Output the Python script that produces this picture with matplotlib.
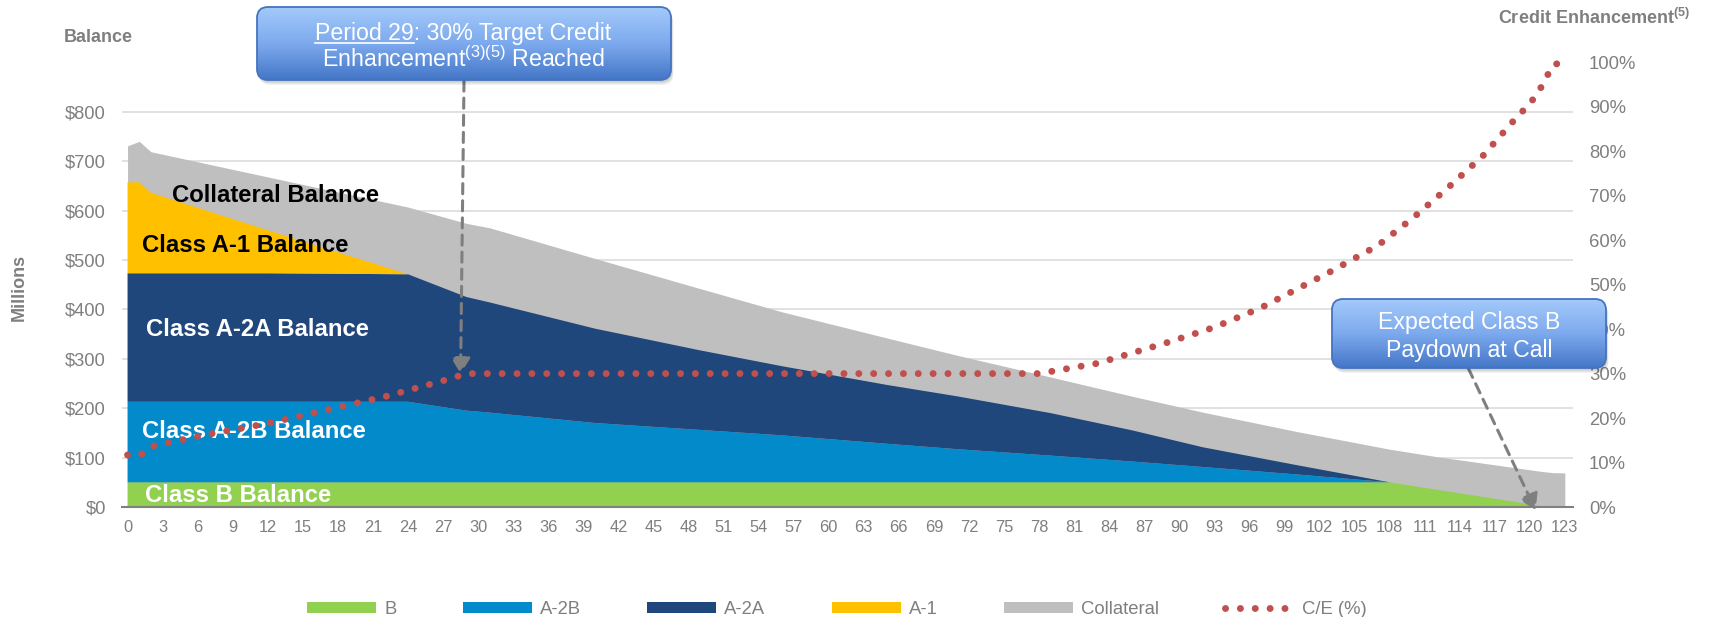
import numpy as np
import matplotlib
matplotlib.use('Agg')
import matplotlib.pyplot as plt
from matplotlib.patches import FancyBboxPatch, Patch
from matplotlib.lines import Line2D
from matplotlib.colors import LinearSegmentedColormap
from matplotlib.ticker import FuncFormatter, PercentFormatter

plt.rcParams['font.family'] = ['Liberation Sans', 'DejaVu Sans']
plt.rcParams['mathtext.fontset'] = 'custom'
plt.rcParams['mathtext.rm'] = 'Liberation Sans'
plt.rcParams['mathtext.bf'] = 'Liberation Sans:bold'
plt.rcParams['mathtext.it'] = 'Liberation Sans:italic'

# balances in $ millions at its break points
periods = [0, 1, 2, 12, 24, 29, 31, 40, 49, 56, 65, 71, 79, 86, 92, 100, 108, 112, 115, 118, 121, 122, 123]
class_b = [50, 50, 50, 50, 50, 50, 50, 50, 50, 50, 50, 50, 50, 50, 50, 50, 50, 35, 24, 13, 2, 0, 0]
class_a2b = [163, 163, 163, 163, 163, 145, 141, 120, 106, 95, 78, 67, 54, 42, 31, 16, 0, 0, 0, 0, 0, 0, 0]
class_a2a = [260, 260, 260, 260, 258, 230, 223, 191, 161, 140, 119, 107, 86, 63, 40, 19, 0, 0, 0, 0, 0, 0, 0]
class_a1 = [184, 184, 163, 87, 0, 0, 0, 0, 0, 0, 0, 0, 0, 0, 0, 0, 0, 0, 0, 0, 0, 0, 0]
collateral = [731, 740, 719, 668, 607, 574, 565, 503, 442, 395, 342, 307, 263, 224, 192, 153, 117, 102, 92, 82, 72, 69.5, 69]

# credit enhancement (%)
ce_periods = [0, 1, 2, 7, 12, 17, 22, 27, 29, 78, 83, 89, 93, 97, 103, 107, 110, 113, 116, 119, 120, 121, 122, 123]
ce_pct = [11.7, 11.5, 13.6, 16.4, 18.8, 21.8, 24.8, 28.4, 30.0, 30.0, 32.3, 37.0, 40.4, 44.8, 53.0, 58.8,
          65.0, 71.8, 79.0, 88.0, 90.6, 94.5, 99.5, 100.0]

legend_labels = ['B', 'A-2B', 'A-2A', 'A-1', 'Collateral', 'C/E (%)']

GREEN = '#92D050'
LBLUE = '#028ACB'
NAVY = '#1F477B'
YELLOW = '#FFC000'
GRAY = '#BFBFBF'
RED = '#C0504D'
TXT = '#7F7F7F'

W, H = 1714, 617
fig = plt.figure(figsize=(W / 100, H / 100), dpi=100)
ax = fig.add_axes([121.7 / W, 1 - 507 / H, (1573 - 121.7) / W, (507 - 62.3) / H])

ax.fill_between(periods, 0, collateral, color=GRAY, lw=0, zorder=1.2)
ax.stackplot(periods, class_b, class_a2b, class_a2a, class_a1,
             colors=[GREEN, LBLUE, NAVY, YELLOW], lw=0, zorder=1.5)

ax.set_xlim(-0.5, 123.7)
ax.set_ylim(0, 900)
ax.set_xticks(range(0, 124, 3))
ax.set_yticks(range(0, 801, 100))
ax.yaxis.set_major_formatter(FuncFormatter(lambda v, p: f'${v:,.0f}'))
ax.tick_params(axis='both', length=0, colors=TXT)
ax.tick_params(axis='y', labelsize=13.2, pad=11.5)
ax.tick_params(axis='x', labelsize=11.8, pad=9)
ax.grid(axis='y', color='#D9D9D9', lw=1.1)
ax.set_axisbelow(True)
for s in ['top', 'left', 'right']:
    ax.spines[s].set_visible(False)
ax.spines['bottom'].set_color('#808080')
ax.spines['bottom'].set_linewidth(1.5)

# labels inside the areas
lab = dict(fontsize=17.2, fontweight='bold', va='baseline', ha='left', zorder=2)
ax.text(3.77, 618, 'Collateral Balance', color='black', **lab)
ax.text(1.24, 515.5, 'Class A-1 Balance', color='black', **lab)
ax.text(1.62, 346, 'Class A-2A Balance', color='white', **lab)
ax.text(1.24, 140, 'Class A-2B Balance', color='white', **lab)
ax.text(1.5, 11, 'Class B Balance', color='white', **lab)

ax2 = ax.twinx()
ax2.set_ylim(0, 1)
ax2.set_yticks(np.arange(0, 1.01, 0.1))
ax2.yaxis.set_major_formatter(PercentFormatter(1.0, decimals=0))
ax2.tick_params(axis='y', length=0, colors=TXT, labelsize=13.3, pad=11.5)
for s in ax2.spines.values():
    s.set_visible(False)

dot_lw = 5.0
dot_style = (0, (0.01, 2.13))
ax2.plot(ce_periods, np.array(ce_pct) / 100, color=RED, lw=dot_lw, ls=dot_style,
         dash_capstyle='round', clip_on=False, zorder=3)

arrow = dict(arrowstyle='-|>,head_length=0.47,head_width=0.29', linestyle=(0, (3.3, 2.3)),
             lw=2.2, color='#7F7F7F', shrinkA=0, shrinkB=0, mutation_scale=20)
ax2.annotate('', xy=(28.5, 0.30), xytext=(464, H - 81), textcoords='figure pixels',
             arrowprops=arrow, annotation_clip=False)
ax2.annotate('', xy=(120.5, -0.007), xytext=(1468.3, H - 368.3), textcoords='figure pixels',
             arrowprops=arrow, annotation_clip=False)

# overlay in pixel coordinates (y down) for callouts and titles
ov = fig.add_axes([0, 0, 1, 1])
ov.set_xlim(0, W)
ov.set_ylim(H, 0)
ov.set_autoscale_on(False)
ov.axis('off')

box_cmap = LinearSegmentedColormap.from_list('box', ['#A3C9FA', '#7DAAEE', '#4577C8'])


def callout(x0, y0, x1, y1):
    w, h = x1 - x0, y1 - y0
    for k in range(4):
        ov.add_patch(FancyBboxPatch((x0 + 1 + k * 0.5, y0 + 2 + k), w, h,
                                    boxstyle='round,pad=0,rounding_size=11',
                                    fc='black', ec='none', alpha=0.05, zorder=1))
    box = FancyBboxPatch((x0, y0), w, h, boxstyle='round,pad=0,rounding_size=11',
                         fc='none', ec='#4673BE', lw=1.3, zorder=3)
    ov.add_patch(box)
    im = ov.imshow(np.linspace(0, 1, 64).reshape(-1, 1), extent=[x0, x1, y1, y0],
                   cmap=box_cmap, aspect='auto', zorder=2, interpolation='bilinear')
    im.set_clip_path(box)


callout(257, 7, 671, 80)
callout(1332, 299, 1606, 368)

ct = dict(fontsize=16.7, color='white', ha='center', va='baseline', zorder=4)
t1 = ov.text(463, 40, 'Period 29: 30% Target Credit', **ct)
ov.text(463, 67, 'Enhancement$^{(3)(5)}$ Reached', **ct)
ov.text(1469, 329, 'Expected Class B', **ct)
ov.text(1469, 356.7, 'Paydown at Call', **ct)

# underline "Period 29"
renderer = fig.canvas.get_renderer()
bb = t1.get_window_extent(renderer)
probe = ov.text(0, 0, 'Period 29', fontsize=16.7)
pw = probe.get_window_extent(renderer).width
probe.remove()
ov.plot([bb.x0, bb.x0 + pw], [42.5, 42.5], color='white', lw=1.2, zorder=4)

ov.text(63.3, 42.2, 'Balance', fontsize=13, fontweight='bold', color=TXT, va='baseline')
ov.text(19, 287, 'Millions', fontsize=13, fontweight='bold', color=TXT,
        rotation=90, ha='center', va='center')
ov.text(1498.3, 23.5, r'Credit Enhancement$^{\mathbf{(5)}}$', fontsize=13, fontweight='bold',
        color=TXT, va='baseline')

handles = [Patch(facecolor=c, edgecolor='none') for c in [GREEN, LBLUE, NAVY, YELLOW, GRAY]]
handles.append(Line2D([0], [0], color=RED, lw=dot_lw, ls=dot_style, dash_capstyle='round'))
fig.legend(handles, legend_labels, loc='center', bbox_to_anchor=(837 / W, 1 - 609.5 / H), ncol=6,
           frameon=False, fontsize=13.3, handlelength=3.73, handleheight=0.51,
           handletextpad=0.43, columnspacing=3.6, labelcolor=TXT)

fig.savefig('out.png', dpi=100)
